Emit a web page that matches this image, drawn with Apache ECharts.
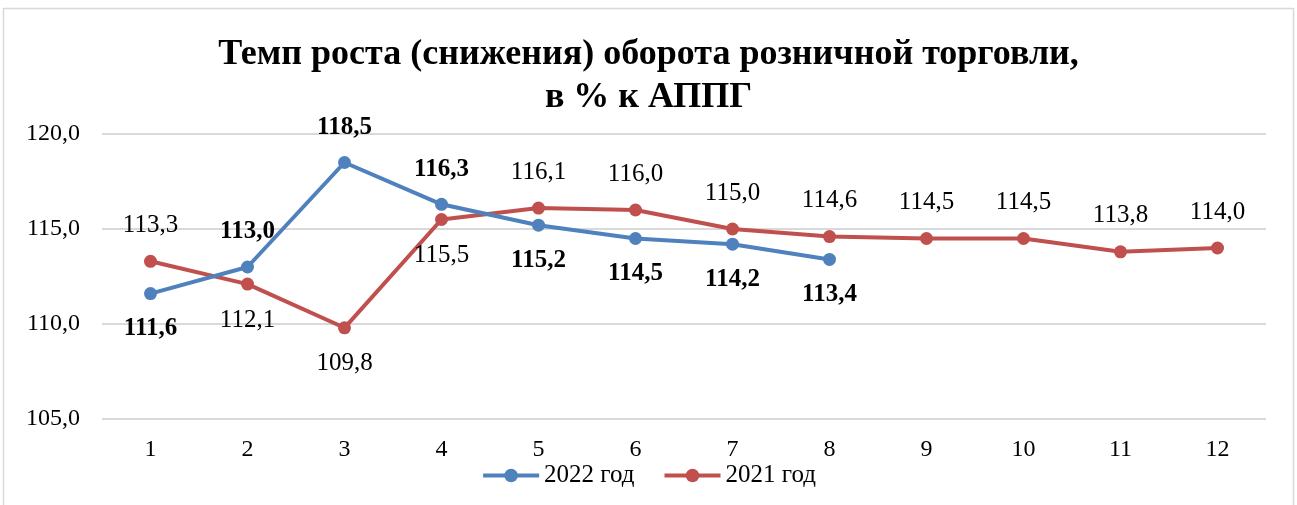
<!DOCTYPE html>
<html><head><meta charset="utf-8">
<script src="https://cdn.jsdelivr.net/npm/echarts@6/dist/echarts.min.js"></script>
<style>html,body{margin:0;padding:0;background:#fff}#c{width:1297px;height:505px}</style>
</head><body><div id="c"></div>
<script>
const categories = ['1','2','3','4','5','6','7','8','9','10','11','12'];
const series2022 = [111.6, 113.0, 118.5, 116.3, 115.2, 114.5, 114.2, 113.4];
const series2021 = [113.3, 112.1, 109.8, 115.5, 116.1, 116.0, 115.0, 114.6, 114.5, 114.5, 113.8, 114.0];
const pos2022 = ['bottom','top','top','top','bottom','bottom','bottom','bottom'];
const pos2021 = ['top','bottom','bottom','bottom','top','top','top','top','top','top','top','top'];
const FONT = '"Liberation Serif", "DejaVu Serif", serif';
const fmt = v => v.toFixed(1).replace('.', ',');
const chart = echarts.init(document.getElementById('c'));
function mk(vals, pos){
  return vals.map((v,i)=>({value:v,label:{position:pos[i]}}));
}
chart.setOption({
  animation:false,
  graphic:[{type:'rect',shape:{x:3.5,y:8.5,width:1290,height:510},style:{fill:'none',stroke:'#d9d9d9',lineWidth:1.5}}],
  title:{text:'Темп роста (снижения) оборота розничной торговли,\nв % к АППГ',left:'center',top:28,
    textStyle:{fontFamily:FONT,fontSize:36,fontWeight:'bold',color:'#000',lineHeight:43}},
  grid:{left:102,right:31,top:134,bottom:86},
  legend:{bottom:12,left:'center',itemWidth:56,itemHeight:17,itemGap:28,
    lineStyle:{width:4},
    textStyle:{fontFamily:FONT,fontSize:25,color:'#000'},
    data:['2022 год','2021 год']},
  xAxis:{type:'category',data:categories,boundaryGap:true,
    axisLine:{show:false},axisTick:{show:false},
    axisLabel:{fontFamily:FONT,fontSize:24,color:'#000',margin:19}},
  yAxis:{type:'value',min:105,max:120,interval:5,
    axisLabel:{fontFamily:FONT,fontSize:24,color:'#000',margin:22,formatter:v=>fmt(v)},
    splitLine:{lineStyle:{color:'#d9d9d9',width:2}},axisLine:{show:false},axisTick:{show:false}},
  series:[
    {name:'2022 год',type:'line',data:mk(series2022,pos2022),color:'#4F81BD',
      lineStyle:{width:4,color:'#4F81BD'},symbol:'circle',symbolSize:13,itemStyle:{color:'#4F81BD'},
      label:{show:true,distance:16,fontFamily:FONT,fontSize:25,fontWeight:'bold',color:'#000',formatter:p=>fmt(p.value)},z:3},
    {name:'2021 год',type:'line',data:mk(series2021,pos2021),color:'#C0504D',
      lineStyle:{width:4,color:'#C0504D'},symbol:'circle',symbolSize:13,itemStyle:{color:'#C0504D'},
      label:{show:true,distance:17,fontFamily:FONT,fontSize:25,color:'#000',formatter:p=>fmt(p.value)},z:2}
  ]
});
</script></body></html>
